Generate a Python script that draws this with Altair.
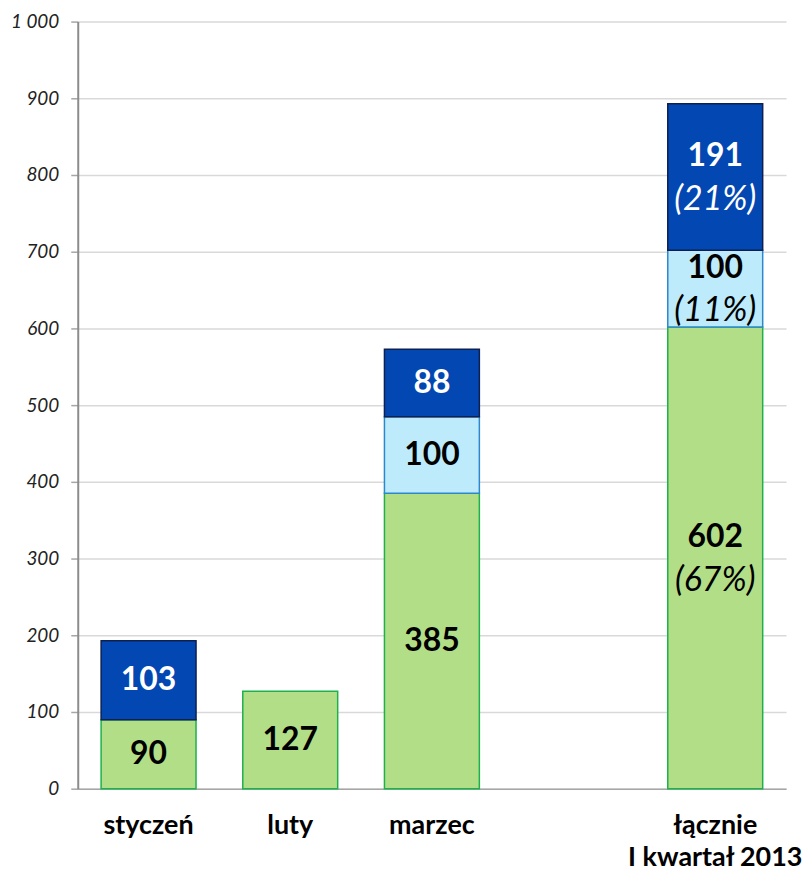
import altair as alt
import pandas as pd

categories = ["styczeń", "luty", "marzec", " ", "łącznie|I kwartał 2013"]
series = ["zielony", "jasnoniebieski", "ciemnoniebieski"]
green_vals = [90, 127, 385, None, 602]
light_vals = [None, None, 100, None, 100]
dark_vals = [103, None, 88, None, 191]
green_pct = ["", "", "", "", "(67%)"]
light_pct = ["", "", "", "", "(11%)"]
dark_pct = ["", "", "", "", "(21%)"]

fills = ["#b3de88", "#bdebfb", "#0347b2"]
strokes = ["#1db14b", "#2c88cc", "#0d2050"]
FONT = "Lato"

rows = []
for i, cat in enumerate(categories):
    for order, (s, vals, pcts) in enumerate(zip(series, [green_vals, light_vals, dark_vals],
                                                 [green_pct, light_pct, dark_pct])):
        if vals[i] is not None:
            rows.append({"cat": cat, "series": s, "order": order, "value": vals[i], "pct": pcts[i]})
df = pd.DataFrame(rows)

total_cat = categories[-1]

xenc = alt.X("cat:N",
             scale=alt.Scale(domain=categories, paddingInner=0.33, paddingOuter=0.165),
             sort=categories,
             axis=alt.Axis(title=None, labelAngle=0, labelFont=FONT, labelFontSize=27,
                           labelFontWeight="bold", labelColor="black", labelPadding=24,
                           labelLineHeight=32, labelLimit=400,
                           labelExpr="split(datum.value, '|')",
                           ticks=False, domainColor="#a6a6a6", domainWidth=1.5,
                           grid=False))
base = alt.Chart(df).transform_stack(
    stack="value", groupby=["cat"], sort=[alt.SortField("order")], as_=["y0", "y1"]
).transform_calculate(mid="(datum.y0 + datum.y1) / 2")

yscale = alt.Scale(domain=[0, 1000], nice=False)

bars = base.mark_bar(strokeWidth=1.5).encode(
    x=xenc,
    y=alt.Y("y0:Q", scale=yscale,
            axis=alt.Axis(title=None, values=list(range(0, 1001, 100)),
                          labelExpr="replace(format(datum.value, ','), ',', ' ')",
                          labelFont=FONT, labelFontSize=19, labelFontStyle="italic",
                          labelColor="#222222", labelPadding=12, tickSize=7,
                          tickColor="#a6a6a6", tickWidth=1.5, domainColor="#8c8c8c",
                          domainWidth=2, gridColor="#d9d9d9", gridWidth=1.5)),
    y2="y1:Q",
    fill=alt.Fill("series:N", scale=alt.Scale(domain=series, range=fills), legend=None),
    stroke=alt.Stroke("series:N", scale=alt.Scale(domain=series, range=strokes), legend=None),
)

tcolor = alt.condition(alt.datum.series == "ciemnoniebieski", alt.value("white"), alt.value("black"))

num_plain = base.transform_filter(alt.datum.cat != total_cat).mark_text(
    font=FONT, fontSize=32, fontWeight="bold", baseline="middle"
).encode(x=xenc, y=alt.Y("mid:Q", scale=yscale), text="value:Q", color=tcolor)

num_total = base.transform_filter(alt.datum.cat == total_cat).mark_text(
    font=FONT, fontSize=32, fontWeight="bold", baseline="middle", dy=-21
).encode(x=xenc, y=alt.Y("mid:Q", scale=yscale), text="value:Q", color=tcolor)

pct_total = base.transform_filter(alt.datum.cat == total_cat).mark_text(
    font=FONT, fontSize=34, fontStyle="italic", baseline="middle", dy=23
).encode(x=xenc, y=alt.Y("mid:Q", scale=yscale), text="pct:N", color=tcolor)

chart = alt.layer(bars, num_plain, num_total, pct_total).properties(
    width=711, height=770, padding={"left": 2, "top": 3, "right": 0, "bottom": 0}
).configure_view(stroke=None)

chart.save("out.html", embed_options={"renderer": "svg", "actions": False})
